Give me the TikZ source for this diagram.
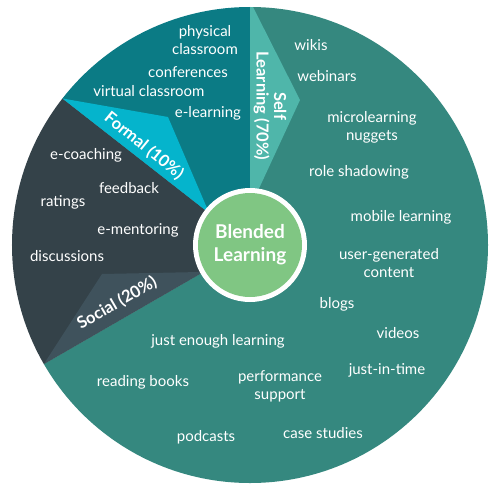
\documentclass[tikz,border=0pt]{standalone}
\usepackage{fontspec}
\setmainfont{Lato}
\definecolor{selfc}{HTML}{35887F}
\definecolor{selflab}{HTML}{4FB6AA}
\definecolor{formalc}{HTML}{0B7B85}
\definecolor{formallab}{HTML}{05B4CC}
\definecolor{socialc}{HTML}{344249}
\definecolor{sociallab}{HTML}{3F525C}
\definecolor{greenc}{HTML}{80C683}
\tikzset{
  item/.style={text=white, align=center, inner sep=0pt, font=\fontsize{15}{18}\selectfont},
  seclab/.style={text=white, align=center, inner sep=0pt, font=\fontsize{16.5}{17.5}\selectfont\bfseries},
}
\begin{document}
\begin{tikzpicture}[x=1pt,y=1pt]
\useasboundingbox (-250,-248) rectangle (250,245);
\begin{scope}
\clip (0,0) circle[radius=238pt];
% sectors
\fill[selfc] (0,0) -- (210:240pt) arc[start angle=210,end angle=450,radius=240pt] -- cycle;
\fill[formalc] (0,0) -- (90:240pt) arc[start angle=90,end angle=142,radius=240pt] -- cycle;
\fill[socialc] (0,0) -- (142:240pt) arc[start angle=142,end angle=210,radius=240pt] -- cycle;
% label shapes
\fill[selflab] (0,0) -- (0,240) -- (2,240) -- (50,145) -- (6,50) -- cycle;
\fill[formallab] (0,0) -- (142:238pt) -- (-82,128) -- (-43,37) -- cycle;
\fill[sociallab] (0,0) -- (210:238pt) -- (-148,-29) -- (-50,-27) -- cycle;
\end{scope}
% center
\fill[white] (0,0) circle[radius=57pt];
\node[circle, fill=greenc, minimum size=104pt, inner sep=0pt, text=white, align=center,
  font=\fontsize{19}{23}\selectfont\bfseries] (center) at (0,0) {Blended\\Learning};
% section labels
\node[seclab, rotate=-90] (selflbl) at (20,139) {Self\\Learning (70\%)};
\node[seclab, rotate=-39] (formallbl) at (-106,99) {Formal (10\%)};
\node[seclab, rotate=30] (sociallbl) at (-133,-58) {Social (20\%)};
% formal items
\node[item] (physical) at (-45,205) {physical\\classroom};
\node[item] (conferences) at (-62,173) {conferences};
\node[item] (virtual) at (-101,154) {virtual classroom};
\node[item] (elearning) at (-42,132) {e-learning};
% social items
\node[item] (ecoaching) at (-164,90) {e-coaching};
\node[item] (feedback) at (-121,57) {feedback};
\node[item] (ratings) at (-187,43) {ratings};
\node[item] (ementoring) at (-112,15) {e-mentoring};
\node[item] (discussions) at (-183,-11) {discussions};
% self items
\node[item] (wikis) at (61,200) {wikis};
\node[item] (webinars) at (77,169) {webinars};
\node[item] (micro) at (122,118) {microlearning\\nuggets};
\node[item] (role) at (109,73) {role shadowing};
\node[item] (mobile) at (151,28) {mobile learning};
\node[item] (user) at (139,-18) {user-generated\\content};
\node[item] (blogs) at (87,-59) {blogs};
\node[item] (videos) at (148,-88) {videos};
\node[item] (jit) at (137,-125) {just-in-time};
\node[item] (perf) at (30,-141) {performance\\support};
\node[item] (cases) at (73,-188) {case studies};
\node[item] (enough) at (-32,-96) {just enough learning};
\node[item] (reading) at (-107,-137) {reading books};
\node[item] (podcasts) at (-44,-192) {podcasts};
\end{tikzpicture}
\end{document}
